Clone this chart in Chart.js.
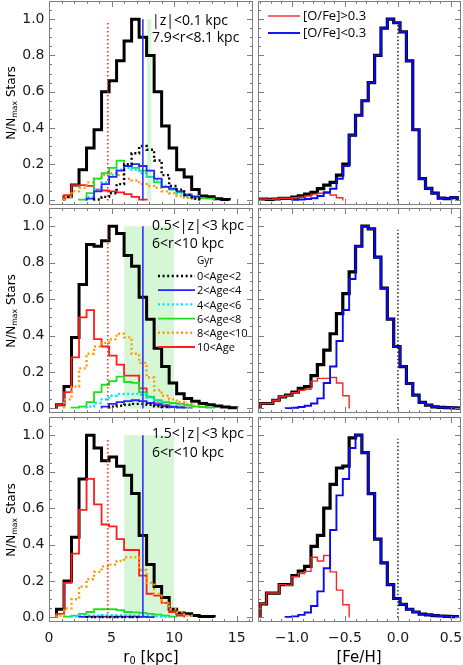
<!DOCTYPE html>
<html>
<head>
<meta charset="utf-8">
<script src="https://cdn.jsdelivr.net/npm/chart.js@4.4.1/dist/chart.umd.min.js"></script>
<style>
  html, body { margin: 0; padding: 0; background: #fff; }
  #fig { position: relative; width: 463px; height: 665px; overflow: hidden; }
  #fig canvas { position: absolute; }
  .t { position: absolute; white-space: nowrap; line-height: 1; color: #000; }
  .ann { font-family: "Open Sans"; font-size: 14px; }
  .leg { font-family: "Open Sans"; font-size: 11px; }
  .leg2 { font-family: "Open Sans"; font-size: 13px; }
  .ytitle { font-family: "DejaVu Sans"; font-size: 12px; transform: translate(-50%, -50%) rotate(-90deg); }
  .xtitle { font-family: "DejaVu Sans"; font-size: 15px; transform: translateX(-50%); }
  sub { font-size: 0.65em; vertical-align: -0.25em; }
</style>
</head>
<body>
<div id="fig"></div>
<script>
// histogram bins
const R0_BIN_START = 0;
const R0_BIN_WIDTH = 0.6;
const FEH_BIN_START = -1.30;
const FEH_BIN_WIDTH = 0.06;

const AGE_LABELS = ['0<Age<2', '2<Age<4', '4<Age<6', '6<Age<8', '8<Age<10', '10<Age'];
const OFE_LABELS = ['[O/Fe]>0.3', '[O/Fe]<0.3'];
const PANEL_LABELS = [
  ['|z|<0.1 kpc', '7.9<r<8.1 kpc'],
  ['0.5<|z|<3 kpc', '6<r<10 kpc'],
  ['1.5<|z|<3 kpc', '6<r<10 kpc'],
];

const Y_TICKS = [0, 0.2, 0.4, 0.6, 0.8, 1.0];
const R0_TICKS = [0, 5, 10, 15];
const FEH_TICKS = [-1.0, -0.5, 0.0, 0.5];

// reference marks
const R0_RED_MARK = 4.7;
const R0_BLUE_MARK = 7.5;
const R0_BANDS = [[7.8, 8.2], [6, 10], [6, 10]];
const FEH_MARK = 0.0;

// r0 distributions, row A: |z|<0.1 kpc
const r0AllA      = [0, 0, 0.02, 0.085, 0.17, 0.29, 0.39, 0.60, 0.66, 0.77, 0.88, 1.00, 0.90, 0.80, 0.60, 0.41, 0.29, 0.17, 0.13, 0.06, 0.025, 0.02, 0.01, 0.005, 0, 0, 0];
const r0Age0to2A  = [0, 0, 0, 0, 0, 0, 0.005, 0.02, 0.04, 0.09, 0.20, 0.26, 0.30, 0.28, 0.22, 0.14, 0.08, 0.06, 0.03, 0.01, 0, 0, 0, 0, 0, 0, 0];
const r0Age2to4A  = [0, 0, 0, 0, 0, 0.01, 0.05, 0.09, 0.13, 0.165, 0.19, 0.20, 0.19, 0.165, 0.12, 0.075, 0.065, 0.05, 0.03, 0.02, 0, 0, 0, 0, 0, 0, 0];
const r0Age4to6A  = [0, 0, 0, 0, 0, 0.02, 0.06, 0.10, 0.14, 0.17, 0.18, 0.17, 0.15, 0.13, 0.11, 0.08, 0.06, 0.04, 0.02, 0.01, 0, 0, 0, 0, 0, 0, 0];
const r0Age6to8A  = [0, 0, 0, 0, 0.005, 0.04, 0.12, 0.15, 0.18, 0.22, 0.19, 0.18, 0.165, 0.13, 0.10, 0.075, 0.06, 0.045, 0.035, 0.025, 0.012, 0.01, 0, 0, 0, 0, 0];
const r0Age8to10A = [0, 0, 0.02, 0.05, 0.07, 0.10, 0.12, 0.14, 0.15, 0.14, 0.12, 0.11, 0.09, 0.08, 0.07, 0.05, 0.04, 0.025, 0.015, 0.01, 0, 0, 0, 0, 0, 0, 0];
const r0Age10upA  = [0, 0, 0.03, 0.085, 0.085, 0.08, 0.06, 0.055, 0.05, 0.045, 0.035, 0.02, 0.005, 0, 0, 0, 0, 0, 0, 0, 0, 0, 0, 0, 0, 0, 0];

// row B: 0.5<|z|<3 kpc
const r0AllB      = [0, 0.02, 0.12, 0.39, 0.68, 0.90, 0.89, 0.92, 1.00, 0.96, 0.84, 0.78, 0.61, 0.49, 0.33, 0.23, 0.14, 0.08, 0.055, 0.04, 0.027, 0.02, 0.013, 0.008, 0.004, 0, 0];
const r0Age0to2B  = [0, 0, 0, 0, 0, 0, 0, 0, 0.01, 0.015, 0.02, 0.025, 0.025, 0.02, 0.012, 0.008, 0, 0, 0, 0, 0, 0, 0, 0, 0, 0, 0];
const r0Age2to4B  = [0, 0, 0, 0, 0, 0, 0, 0.01, 0.025, 0.035, 0.04, 0.045, 0.04, 0.03, 0.02, 0.012, 0.008, 0.005, 0, 0, 0, 0, 0, 0, 0, 0, 0];
const r0Age4to6B  = [0, 0, 0, 0, 0, 0.01, 0.03, 0.05, 0.07, 0.08, 0.08, 0.08, 0.075, 0.06, 0.04, 0.025, 0.015, 0.01, 0.005, 0, 0, 0, 0, 0, 0, 0, 0];
const r0Age6to8B  = [0, 0, 0, 0.005, 0.01, 0.035, 0.09, 0.13, 0.15, 0.175, 0.145, 0.14, 0.09, 0.065, 0.045, 0.035, 0.03, 0.025, 0.018, 0.01, 0.008, 0.005, 0, 0, 0, 0, 0];
const r0Age8to10B = [0, 0, 0.05, 0.12, 0.22, 0.30, 0.34, 0.36, 0.38, 0.41, 0.39, 0.30, 0.25, 0.17, 0.10, 0.07, 0.05, 0.035, 0.025, 0.015, 0.01, 0, 0, 0, 0, 0, 0];
const r0Age10upB  = [0, 0.02, 0.09, 0.28, 0.50, 0.54, 0.38, 0.34, 0.29, 0.24, 0.18, 0.18, 0.11, 0.064, 0.027, 0.02, 0.01, 0.01, 0.005, 0, 0, 0, 0, 0, 0, 0, 0];

// row C: 1.5<|z|<3 kpc
const r0AllC      = [0, 0.045, 0.20, 0.44, 0.76, 1.00, 0.93, 0.86, 0.88, 0.83, 0.78, 0.68, 0.45, 0.29, 0.17, 0.11, 0.045, 0.025, 0.02, 0.01, 0.005, 0.005, 0, 0, 0, 0, 0];
const r0Age0to2C  = [0, 0, 0, 0, 0, 0.002, 0.002, 0.002, 0.002, 0.002, 0.002, 0.002, 0, 0, 0, 0, 0, 0, 0, 0, 0, 0, 0, 0, 0, 0, 0];
const r0Age2to4C  = [0, 0, 0, 0, 0.003, 0.004, 0.005, 0.005, 0.005, 0.005, 0.005, 0.004, 0.003, 0.002, 0, 0, 0, 0, 0, 0, 0, 0, 0, 0, 0, 0, 0];
const r0Age4to6C  = [0, 0, 0, 0.005, 0.01, 0.01, 0.01, 0.012, 0.012, 0.012, 0.012, 0.01, 0.01, 0.008, 0.006, 0.004, 0, 0, 0, 0, 0, 0, 0, 0, 0, 0, 0];
const r0Age6to8C  = [0, 0, 0.005, 0.01, 0.02, 0.03, 0.045, 0.045, 0.045, 0.04, 0.03, 0.028, 0.025, 0.02, 0.015, 0.01, 0.005, 0, 0, 0, 0, 0, 0, 0, 0, 0, 0];
const r0Age8to10C = [0, 0.01, 0.05, 0.10, 0.17, 0.21, 0.25, 0.28, 0.29, 0.31, 0.33, 0.33, 0.26, 0.19, 0.13, 0.08, 0.045, 0.03, 0.01, 0, 0, 0, 0, 0, 0, 0, 0];
const r0Age10upC  = [0, 0.02, 0.19, 0.35, 0.59, 0.76, 0.62, 0.51, 0.50, 0.43, 0.37, 0.37, 0.23, 0.13, 0.12, 0.08, 0.03, 0.01, 0, 0, 0, 0, 0, 0, 0, 0, 0];

// [Fe/H] distributions
const fehAllA  = [0.008, 0.006, 0.008, 0.012, 0.012, 0.018, 0.025, 0.035, 0.045, 0.065, 0.085, 0.10, 0.14, 0.20, 0.36, 0.47, 0.55, 0.65, 0.80, 0.95, 1.00, 0.98, 0.93, 0.77, 0.39, 0.12, 0.067, 0.04, 0.013, 0.01, 0.016, 0];
const fehLowA  = [0, 0, 0, 0, 0, 0.003, 0.005, 0.008, 0.012, 0.025, 0.045, 0.065, 0.12, 0.19, 0.36, 0.47, 0.55, 0.65, 0.80, 0.95, 1.00, 0.98, 0.93, 0.77, 0.39, 0.12, 0.067, 0.04, 0.013, 0.01, 0.016, 0];
const fehHighA = [0.008, 0.006, 0.008, 0.012, 0.012, 0.015, 0.018, 0.025, 0.035, 0.04, 0.04, 0.03, 0.015, 0, 0, 0, 0, 0, 0, 0, 0, 0, 0, 0, 0, 0, 0, 0, 0, 0, 0, 0];

const fehAllB  = [0.027, 0.027, 0.045, 0.064, 0.073, 0.09, 0.11, 0.12, 0.18, 0.24, 0.32, 0.41, 0.52, 0.63, 0.75, 0.89, 1.00, 0.985, 0.83, 0.66, 0.49, 0.34, 0.23, 0.137, 0.073, 0.033, 0.018, 0.009, 0.006, 0.004, 0.003, 0.002];
const fehLowB  = [0, 0, 0, 0, 0.002, 0.004, 0.008, 0.015, 0.027, 0.055, 0.14, 0.23, 0.37, 0.54, 0.71, 0.89, 1.00, 0.985, 0.83, 0.66, 0.49, 0.34, 0.23, 0.137, 0.073, 0.033, 0.018, 0.009, 0.006, 0.004, 0.003, 0.002];
const fehHighB = [0.027, 0.027, 0.045, 0.064, 0.071, 0.086, 0.10, 0.105, 0.15, 0.165, 0.165, 0.17, 0.14, 0.07, 0, 0, 0, 0, 0, 0, 0, 0, 0, 0, 0, 0, 0, 0, 0, 0, 0, 0];

const fehAllC  = [0.075, 0.134, 0.134, 0.18, 0.18, 0.23, 0.255, 0.28, 0.39, 0.45, 0.60, 0.73, 0.82, 0.83, 0.985, 1.00, 0.905, 0.68, 0.43, 0.30, 0.18, 0.104, 0.072, 0.045, 0.03, 0.018, 0.014, 0.01, 0.008, 0.006, 0.005, 0];
const fehLowC  = [0, 0, 0, 0, 0.003, 0.006, 0.014, 0.027, 0.063, 0.143, 0.27, 0.48, 0.67, 0.76, 0.93, 1.00, 0.905, 0.68, 0.43, 0.30, 0.18, 0.104, 0.072, 0.045, 0.03, 0.018, 0.014, 0.01, 0.008, 0.006, 0.005, 0];
const fehHighC = [0.075, 0.134, 0.134, 0.18, 0.177, 0.224, 0.241, 0.253, 0.33, 0.31, 0.34, 0.25, 0.15, 0.07, 0, 0, 0, 0, 0, 0, 0, 0, 0, 0, 0, 0, 0, 0, 0, 0, 0, 0];

const R0_ROWS = [
  [r0Age0to2A, r0Age2to4A, r0Age4to6A, r0Age6to8A, r0Age8to10A, r0Age10upA],
  [r0Age0to2B, r0Age2to4B, r0Age4to6B, r0Age6to8B, r0Age8to10B, r0Age10upB],
  [r0Age0to2C, r0Age2to4C, r0Age4to6C, r0Age6to8C, r0Age8to10C, r0Age10upC],
];
const R0_TOTALS = [r0AllA, r0AllB, r0AllC];
const FEH_ROWS = [[fehAllA, fehHighA, fehLowA], [fehAllB, fehHighB, fehLowB], [fehAllC, fehHighC, fehLowC]];

// styles
const TOTAL_STYLE = {color: '#000000', width: 3, dash: []};
const AGE_STYLES = [
  {color: '#000000', width: 2.4, dash: [2, 2.6]},
  {color: '#2424ff', width: 1.8, dash: []},
  {color: '#00e4ff', width: 2.4, dash: [2, 2.6]},
  {color: '#1fe01f', width: 1.8, dash: []},
  {color: '#ff9b00', width: 2.4, dash: [2, 2.6]},
  {color: '#ff1c1c', width: 1.8, dash: []},
];
const HIGH_STYLE = {color: '#ff2424', width: 1.4, dash: []};
const LOW_STYLE = {color: '#0b0bf0', width: 1.9, dash: []};
const BAND_COLOR = '#d6f7d6';
const TICK_FONT = {family: 'DejaVu Sans', size: 14};

// layout (page pixels)
const COLS = [{left: 49, right: 253, cl: 0, cr: 256}, {left: 258, right: 461, cl: 256, cr: 463}];
const ROWS = [{top: 1, bottom: 205}, {top: 208, bottom: 413}, {top: 417, bottom: 622}];

const fig = document.getElementById('fig');

function stepPoints(values, start, width) {
  const first = values.findIndex(v => v > 0);
  let last = values.length - 1;
  while (last > first && !(values[last] > 0)) last--;
  const pts = [{x: start + first * width, y: 0}];
  for (let i = first; i <= last; i++) pts.push({x: start + i * width, y: values[i]});
  pts.push({x: start + (last + 1) * width, y: values[last]});
  pts.push({x: start + (last + 1) * width, y: 0});
  return pts;
}

function hist(values, start, width, st) {
  return {
    data: stepPoints(values, start, width), stepped: true,
    borderColor: st.color, borderWidth: st.width, borderDash: st.dash,
    borderCapStyle: 'butt', borderJoinStyle: 'miter', pointRadius: 0, fill: false,
  };
}

function vline(x, top, st) {
  return {
    data: [{x: x, y: 0}, {x: x, y: top}],
    borderColor: st.color, borderWidth: st.width, borderDash: st.dash,
    borderCapStyle: 'butt', pointRadius: 0, fill: false,
  };
}

function band(x1, x2, top) {
  return {
    data: [{x: x1, y: top}, {x: x2, y: top}],
    borderColor: 'rgba(0,0,0,0)', borderWidth: 0, backgroundColor: BAND_COLOR,
    fill: 'origin', pointRadius: 0,
  };
}

function isMajor(v, step) {
  const q = v / step;
  return Math.abs(q - Math.round(q)) < 1e-6;
}

const framePlugin = {
  id: 'frame',
  afterDraw(chart, args, opts) {
    const {ctx, chartArea: a} = chart;
    const xs = chart.scales.x, ys = chart.scales.y;
    ctx.save();
    ctx.strokeStyle = '#7d7d7d';
    ctx.lineWidth = 1;
    ctx.setLineDash([]);
    ctx.beginPath();
    for (let v = opts.xFrom; v <= opts.xTo + 1e-9; v += opts.xMinor) {
      const px = Math.round(xs.getPixelForValue(v)) + 0.5;
      if (px <= a.left + 1 || px >= a.right - 1) continue;
      const len = isMajor(v, opts.xMajor) ? 6 : 3;
      ctx.moveTo(px, a.bottom); ctx.lineTo(px, a.bottom - len);
      ctx.moveTo(px, a.top); ctx.lineTo(px, a.top + len);
    }
    for (let v = 0; v <= 1.08; v += 0.05) {
      const py = Math.round(ys.getPixelForValue(v)) + 0.5;
      const len = isMajor(v, 0.2) ? 6 : 3;
      ctx.moveTo(a.left, py); ctx.lineTo(a.left + len, py);
      ctx.moveTo(a.right, py); ctx.lineTo(a.right - len, py);
    }
    ctx.stroke();
    ctx.strokeRect(a.left + 0.5, a.top + 0.5, a.right - a.left - 1, a.bottom - a.top - 1);
    // legend line samples
    for (const l of opts.legend || []) {
      ctx.beginPath();
      ctx.strokeStyle = l.style.color;
      ctx.lineWidth = l.style.width;
      ctx.setLineDash(l.style.dash);
      ctx.moveTo(l.x1 - opts.ox, l.y - opts.oy);
      ctx.lineTo(l.x2 - opts.ox, l.y - opts.oy);
      ctx.stroke();
    }
    ctx.restore();
  }
};

function zeroPad(s) {
  s.paddingLeft = 0; s.paddingRight = 0; s.paddingTop = 0; s.paddingBottom = 0;
}

function addText(html, x, y, cls) {
  const d = document.createElement('div');
  d.className = 't ' + cls;
  d.innerHTML = html;
  d.style.left = x + 'px';
  d.style.top = y + 'px';
  fig.appendChild(d);
  return d;
}

function makePanel(r, c) {
  const col = COLS[c], row = ROWS[r];
  const ctop = row.top - 1;
  const cbot = r === ROWS.length - 1 ? 665 : row.bottom + 2;
  const canvas = document.createElement('canvas');
  canvas.width = col.cr - col.cl;
  canvas.height = cbot - ctop;
  canvas.style.left = col.cl + 'px';
  canvas.style.top = ctop + 'px';
  fig.appendChild(canvas);

  const list = [];
  let xOpts, frameOpts, legend = [];
  if (c === 0) {
    list.push(band(R0_BANDS[r][0], R0_BANDS[r][1], 1.0));
    list.push(hist(R0_TOTALS[r], R0_BIN_START, R0_BIN_WIDTH, TOTAL_STYLE));
    for (let i = AGE_STYLES.length - 1; i >= 0; i--) {
      list.push(hist(R0_ROWS[r][i], R0_BIN_START, R0_BIN_WIDTH, AGE_STYLES[i]));
    }
    list.push(vline(R0_RED_MARK, 0.98, {color: '#ff2020', width: 1.5, dash: [1.5, 2.5]}));
    list.push(vline(R0_BLUE_MARK, 1.0, {color: '#3030ff', width: 1.6, dash: []}));
    xOpts = {min: 0, max: 16.3, ticks: R0_TICKS, fmt: v => String(v)};
    frameOpts = {xFrom: 0, xTo: 16, xMinor: 1, xMajor: 5};
    if (r === 1) {
      legend = AGE_STYLES.map((st, i) => ({x1: 158, x2: 195, y: 276 + i * 14.2, style: st}));
    }
  } else {
    const [all, high, low] = FEH_ROWS[r];
    list.push(hist(all, FEH_BIN_START, FEH_BIN_WIDTH, {color: '#000000', width: 3.2, dash: []}));
    list.push(hist(high, FEH_BIN_START, FEH_BIN_WIDTH, HIGH_STYLE));
    list.push(hist(low, FEH_BIN_START, FEH_BIN_WIDTH, LOW_STYLE));
    list.push(vline(FEH_MARK, 0.98, {color: '#000000', width: 1.3, dash: [1.5, 2.2]}));
    xOpts = {min: -1.32, max: 0.595, ticks: FEH_TICKS,
      fmt: v => (v < 0 ? '\u2212' : '') + Math.abs(v).toFixed(1)};
    frameOpts = {xFrom: -1.3, xTo: 0.5, xMinor: 0.1, xMajor: 0.5};
    if (r === 0) {
      legend = [
        {x1: 268, x2: 300, y: 16, style: HIGH_STYLE},
        {x1: 268, x2: 300, y: 33, style: LOW_STYLE},
      ];
    }
  }
  const n = list.length;
  list.forEach((d, i) => { d.order = n - i; });

  const showX = r === ROWS.length - 1;
  const showY = c === 0;
  const yW = col.left - col.cl;
  const xH = cbot - row.bottom;

  new Chart(canvas, {
    type: 'line',
    data: {datasets: list},
    options: {
      responsive: false,
      animation: false,
      devicePixelRatio: 1,
      events: [],
      layout: {padding: {left: 0, right: col.cr - col.right, top: 1, bottom: 0}},
      plugins: {
        legend: {display: false},
        tooltip: {enabled: false},
        frame: Object.assign({legend: legend, ox: col.cl, oy: ctop}, frameOpts),
      },
      scales: {
        x: {
          type: 'linear', position: 'bottom', min: xOpts.min, max: xOpts.max,
          grid: {display: false, drawTicks: false}, border: {display: false},
          ticks: {display: showX, font: TICK_FONT, color: '#1a1a1a', padding: 7.5,
            maxRotation: 0, autoSkip: false, callback: xOpts.fmt},
          afterBuildTicks: s => { s.ticks = xOpts.ticks.map(v => ({value: v})); },
          afterFit: s => { s.height = xH; zeroPad(s); },
        },
        y: {
          type: 'linear', position: 'left', min: -0.025, max: 1.1,
          grid: {display: false, drawTicks: false}, border: {display: false},
          ticks: {display: showY, font: TICK_FONT, color: '#1a1a1a', padding: 4.5,
            autoSkip: false, callback: v => v.toFixed(1)},
          afterBuildTicks: s => { s.ticks = Y_TICKS.map(v => ({value: v})); },
          afterFit: s => { s.width = yW; zeroPad(s); },
        },
      },
    },
    plugins: [framePlugin],
  });
}

for (let r = 0; r < ROWS.length; r++) {
  for (let c = 0; c < COLS.length; c++) makePanel(r, c);
}

// panel annotations
const ANN_TOPS = [[12.6, 29.6], [217.6, 235.6], [425.6, 444.6]];
PANEL_LABELS.forEach((lines, r) => {
  lines.forEach((txt, i) => addText(txt.replace(/</g, '&lt;'), 152, ANN_TOPS[r][i], 'ann'));
});

// age legend (middle left)
addText('Gyr', 197, 255, 'leg').style.fontSize = '10px';
AGE_LABELS.forEach((txt, i) => addText(txt.replace(/</g, '&lt;'), 197, 276 + i * 14.2 - 5.9, 'leg'));

// [O/Fe] legend (top right)
OFE_LABELS.forEach((txt, i) => addText(txt.replace(/</g, '&lt;').replace(/>/g, '&gt;'), 303, [16, 33][i] - 6.9, 'leg2'));

// axis titles
ROWS.forEach(row => addText('N/N<sub>max</sub> Stars', 12, (row.top + row.bottom) / 2, 'ytitle'));
addText('r<sub>0</sub> [kpc]', 151, 650, 'xtitle');
addText('[Fe/H]', 359, 650, 'xtitle');
</script>
</body>
</html>
